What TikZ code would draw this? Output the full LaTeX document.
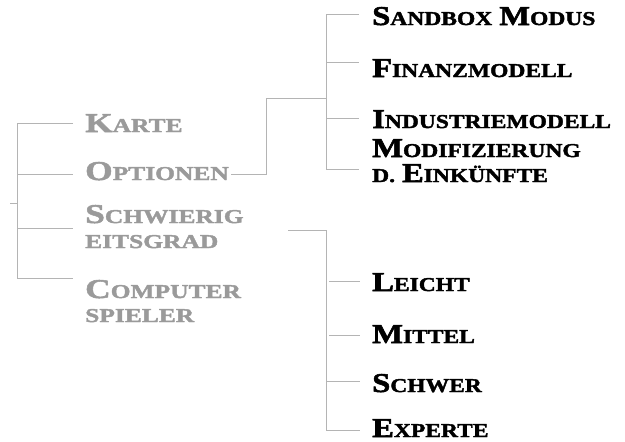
\documentclass[tikz,border=0pt]{standalone}
\usepackage{fontspec}
\newfontfamily\grayfont[FakeStretch=1.3,FakeBold=2]{Liberation Serif Bold}
\newfontfamily\blackfont[FakeStretch=1.2,FakeBold=2]{Liberation Serif Bold}
\newcommand\SCap[2]{{\fontsize{27.2}{30}\selectfont #1}{\fontsize{19.6}{22}\selectfont #2}}
\newcommand\wsp{\hspace{7pt}}
\definecolor{linegray}{HTML}{B4B4B4}
\definecolor{textgray}{HTML}{9A9A9A}
\tikzset{
  item/.style={anchor=base west, inner sep=0pt},
  grayitem/.style={item, text=textgray, font=\grayfont},
  blackitem/.style={item, text=black, font=\blackfont},
  conn/.style={draw=linegray, line width=0.9pt},
}
\begin{document}
\begin{tikzpicture}[x=1pt,y=-1pt]
\useasboundingbox (0,0) rectangle (625,442);
% left menu
\node[grayitem] (karte) at (85,132) {\SCap{K}{ARTE}};
\node[grayitem] (optionen) at (85,180) {\SCap{O}{PTIONEN}};
\node[grayitem] (schw1) at (85,223) {\SCap{S}{CHWIERIG}};
\node[grayitem] (schw2) at (85,248) {\SCap{}{EITSGRAD}};
\node[grayitem] (comp1) at (85,298) {\SCap{C}{OMPUTER}};
\node[grayitem] (comp2) at (85,322) {\SCap{}{SPIELER}};
% options submenu
\node[blackitem] (sandbox) at (372,25) {\SCap{S}{ANDBOX}\wsp\SCap{M}{ODUS}};
\node[blackitem] (finanz) at (372,77) {\SCap{F}{INANZMODELL}};
\node[blackitem] (industrie) at (372,128) {\SCap{I}{NDUSTRIEMODELL}};
\node[blackitem] (modif1) at (372,157) {\SCap{M}{ODIFIZIERUNG}};
\node[blackitem] (modif2) at (372,182) {\SCap{}{D.}\wsp\SCap{E}{INKÜNFTE}};
% difficulty submenu
\node[blackitem] (leicht) at (372,291) {\SCap{L}{EICHT}};
\node[blackitem] (mittel) at (372,343) {\SCap{M}{ITTEL}};
\node[blackitem] (schwer) at (372,392) {\SCap{S}{CHWER}};
\node[blackitem] (experte) at (372,437) {\SCap{E}{XPERTE}};
% junction coordinates
\coordinate (lt) at (17,123);
\coordinate (lb) at (17,278);
\coordinate (stub0) at (10,203);
\coordinate (stub1) at (17,203);
\coordinate (kE) at (73,123);
\coordinate (oW) at (17,174);
\coordinate (oE) at (73,174);
\coordinate (sW) at (17,228);
\coordinate (sE) at (73,228);
\coordinate (cE) at (73,278);
\coordinate (oOut) at (231,174);
\coordinate (oBend) at (266,174);
\coordinate (oTop) at (266,98);
\coordinate (rJ) at (326,98);
\coordinate (rT) at (326,14);
\coordinate (rB) at (326,169);
\coordinate (sbE) at (359,14);
\coordinate (fW) at (326,62);
\coordinate (fE) at (359,62);
\coordinate (iW) at (326,118);
\coordinate (iE) at (359,118);
\coordinate (mE) at (359,169);
\coordinate (dOut) at (288,230);
\coordinate (dT) at (326,230);
\coordinate (dB) at (326,430);
\coordinate (eE) at (360,430);
\coordinate (leW) at (329,281);
\coordinate (leE) at (360,281);
\coordinate (miW) at (329,335);
\coordinate (miE) at (360,335);
\coordinate (scW) at (326,381);
\coordinate (scE) at (360,381);
% left tree
\draw[conn] (kE) -- (lt) -- (lb) -- (cE);
\draw[conn] (oW) -- (oE);
\draw[conn] (sW) -- (sE);
\draw[conn] (stub0) -- (stub1);
% options connector
\draw[conn] (oOut) -- (oBend) -- (oTop) -- (rJ);
\draw[conn] (sbE) -- (rT) -- (rB) -- (mE);
\draw[conn] (fW) -- (fE);
\draw[conn] (iW) -- (iE);
% difficulty connector
\draw[conn] (dOut) -- (dT) -- (dB) -- (eE);
\draw[conn] (leW) -- (leE);
\draw[conn] (miW) -- (miE);
\draw[conn] (scW) -- (scE);
\end{tikzpicture}
\end{document}
